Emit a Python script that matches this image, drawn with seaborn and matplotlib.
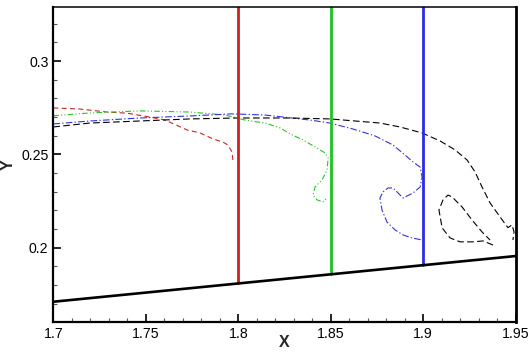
import matplotlib
matplotlib.use("Agg")
import matplotlib.pyplot as plt
import numpy as np
import pandas as pd
import seaborn as sns

# wall geometry (lower boundary) and the three station lines
wall_x = [1.70, 1.95]
wall_y = [0.1710, 0.1955]
station_x = [1.80, 1.85, 1.90]
station_colors = ["#d21e1e", "#22c022", "#2c2ce6"]
y_top = 0.329

# red dashed curve
red_x = [1.7, 1.7144, 1.7290, 1.7398, 1.7522, 1.7604, 1.7723, 1.7793, 1.7863,
         1.7917, 1.7944, 1.7966, 1.7971]
red_y = [0.2749, 0.2743, 0.2727, 0.2721, 0.2700, 0.2684, 0.2631, 0.2615, 0.2583,
         0.2566, 0.2550, 0.2513, 0.2470]

# green dash-dot-dot curve
green_x = [1.7, 1.7198, 1.7469, 1.7739, 1.7928, 1.8036, 1.8145, 1.8226, 1.8280,
           1.8350, 1.8415, 1.8469, 1.8486, 1.8480, 1.8453, 1.8415, 1.8404, 1.8426,
           1.8458, 1.8480]
green_y = [0.2707, 0.2722, 0.2733, 0.2727, 0.2711, 0.2684, 0.2668, 0.2642, 0.2610,
           0.2577, 0.2540, 0.2508, 0.2481, 0.2416, 0.2363, 0.2325, 0.2282, 0.2256,
           0.2245, 0.2266]

# blue dash-dot curve
blue_x = [1.7, 1.7198, 1.7469, 1.7739, 1.7966, 1.8145, 1.8388, 1.8496, 1.8620,
          1.8739, 1.8837, 1.8902, 1.8945, 1.8983, 1.8994, 1.8983, 1.8945, 1.8891,
          1.8864, 1.8837, 1.8810, 1.8783, 1.8766, 1.8777, 1.8804, 1.8848, 1.8891,
          1.8939, 1.8994]
blue_y = [0.2663, 0.2679, 0.2695, 0.2706, 0.2717, 0.2711, 0.2684, 0.2668, 0.2636,
          0.2599, 0.2550, 0.2496, 0.2459, 0.2432, 0.2378, 0.2325, 0.2293, 0.2266,
          0.2293, 0.2320, 0.2320, 0.2299, 0.2266, 0.2202, 0.2137, 0.2095, 0.2068,
          0.2052, 0.2041]

# black dashed curve (main branch + loop near the bottom)
black_x = [1.7, 1.7198, 1.7469, 1.7739, 1.7993, 1.8280, 1.8496, 1.8631, 1.8766,
           1.8874, 1.8993, 1.9091, 1.9172, 1.9237, 1.9280, 1.9318, 1.9361, 1.9415,
           1.9458, 1.9480, 1.9491, 1.9485]
black_y = [0.2647, 0.2668, 0.2679, 0.2690, 0.2695, 0.2695, 0.2690, 0.2679, 0.2668,
           0.2647, 0.2615, 0.2572, 0.2524, 0.2470, 0.2406, 0.2325, 0.2240, 0.2165,
           0.2107, 0.2122, 0.2084, 0.2041]
loop_x = [1.9377, 1.9323, 1.9269, 1.9199, 1.9145, 1.9102, 1.9085, 1.9107, 1.9134,
          1.9156, 1.9210, 1.9264, 1.9318, 1.9361]
loop_y = [0.2014, 0.2036, 0.2031, 0.2031, 0.2052, 0.2106, 0.2202, 0.2256, 0.2282,
          0.2272, 0.2218, 0.2148, 0.2084, 0.2041]

sns.set_style("ticks")
plt.rcParams["font.family"] = ["Liberation Sans", "DejaVu Sans"]

fig = plt.figure(figsize=(5.32, 3.59), dpi=100)
ax = fig.add_axes([0.1002, 0.1039, 0.8692, 0.8766])

curves = [
    (red_x, red_y, "#c42828", (0, (4.5, 3))),
    (green_x, green_y, "#2cc02c", (0, (5, 2, 1, 2, 1, 2))),
    (blue_x, blue_y, "#3434d8", (0, (6, 2, 1.2, 2))),
    (black_x, black_y, "black", (0, (6, 3))),
    (loop_x, loop_y, "black", (0, (6, 3))),
]
for cx, cy, col, ls in curves:
    d = pd.DataFrame({"x": cx, "y": cy})
    sns.lineplot(data=d, x="x", y="y", sort=False, estimator=None, ax=ax,
                 color=col, linewidth=0.8, linestyle=ls)

# station lines from the wall up to the top
for sx, col in zip(station_x, station_colors):
    y0 = np.interp(sx, wall_x, wall_y)
    ax.plot([sx, sx], [y0, y_top], color=col, linewidth=2.0)

# wall
ax.plot(wall_x, wall_y, color="black", linewidth=1.9, solid_capstyle="butt")

ax.set_xlim(1.70, 1.95)
ax.set_ylim(0.1603, y_top)
ax.set_xticks([1.7, 1.75, 1.8, 1.85, 1.9, 1.95])
ax.set_xticklabels(["1.7", "1.75", "1.8", "1.85", "1.9", "1.95"])
ax.set_yticks([0.2, 0.25, 0.3])
ax.set_yticklabels(["0.2", "0.25", "0.3"])
ax.set_xticks(np.arange(1.70, 1.951, 0.01), minor=True)
ax.set_yticks(np.arange(0.17, 0.329, 0.01), minor=True)
ax.tick_params(which="major", direction="in", length=5.5, width=1.2,
               labelsize=10.2, pad=3.5, colors="black")
ax.tick_params(which="minor", direction="in", length=2.6, width=0.8,
               colors="#555555")
ax.tick_params(top=False, right=False, which="both")

for side in ["left", "bottom"]:
    ax.spines[side].set_linewidth(1.6)
ax.spines["top"].set_linewidth(1.1)
ax.spines["right"].set_linewidth(2.0)
for s in ax.spines.values():
    s.set_color("black")

ax.set_xlabel("X", fontsize=11.5, fontweight="bold")
ax.set_ylabel("Y", fontsize=11.5, fontweight="bold")
ax.yaxis.label.set_verticalalignment("center")
ax.xaxis.label.set_verticalalignment("center")
ax.xaxis.set_label_coords(0.5, -0.065)
ax.yaxis.set_label_coords(-0.097, 0.5)
ax.grid(False)

fig.savefig("out.png", dpi=100)
